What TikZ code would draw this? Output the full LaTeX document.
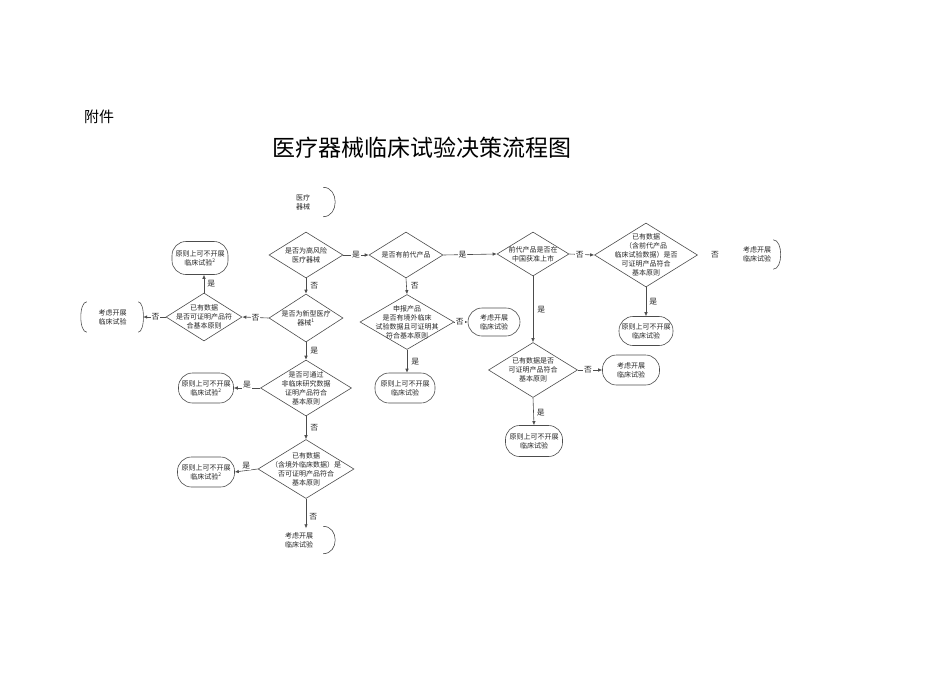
\documentclass[tikz,border=0pt]{standalone}
\usepackage{fontspec}
\setmainfont{Noto Sans CJK SC}
\usetikzlibrary{shapes.geometric,arrows.meta}
\newcommand\mydia[6]{\node[dia, minimum width=#4pt, minimum height=#5pt] (#1) at (#2,#3) {};\node[txt] at (#1) {#6};}
\begin{document}
\begin{tikzpicture}[x=1pt,y=-1pt,
  dia/.style={diamond, draw=black!70, line width=0.6pt, inner sep=0pt},
  term/.style={draw=black!70, line width=0.6pt, rounded corners=14pt, align=center, inner sep=0pt, text=black!85, font=\fontsize{7}{9}\selectfont},
  txt/.style={align=center, inner sep=0pt, text=black!85, font=\fontsize{7}{9}\selectfont},
  conn/.style={draw=black!70, line width=0.6pt, -{Latex[length=4pt,width=3.5pt]}},
  arcline/.style={draw=black!70, line width=0.6pt},
  lbl/.style={font=\fontsize{7.8}{8}\selectfont, text=black!85, fill=white, inner sep=1pt},
]
\useasboundingbox (0,0) rectangle (950,672);

% headings
\node[font=\fontsize{15}{16}\selectfont, inner sep=0pt] (att) at (99,117) {附件};
\node[font=\fontsize{23}{24}\selectfont, inner sep=0pt] (title) at (422,148) {医疗器械临床试验决策流程图};

% start
\node[txt, minimum width=40pt, minimum height=29pt] (T0) at (303,202) {医疗\\器械};
\draw[arcline] (T0.north east) .. controls +(16,0) and +(16,0) .. (T0.south east);

% diamonds
\mydia{D1}{306}{255}{74}{46}{是否为高风险\\医疗器械}
\mydia{D2}{406}{255}{74}{46}{是否有前代产品}
\mydia{D3}{533}{254}{72}{44}{前代产品是否在\\中国获准上市}
\mydia{D4}{646}{255}{103}{64}{已有数据\\（含前代产品\\临床试验数据）是否\\可证明产品符合\\基本原则}
\mydia{D5}{533}{370}{89}{55}{已有数据是否\\可证明产品符合\\基本原则}
\mydia{D6}{306}{318}{74}{48}{是否为新型医疗\\器械\textsuperscript{1}}
\mydia{D7}{204}{317}{76}{48}{已有数据\\是否可证明产品符\\合基本原则}
\mydia{D8}{306}{388}{91}{56}{是否可通过\\非临床研究数据\\证明产品符合\\基本原则}
\mydia{D9}{306}{469}{96}{59}{已有数据\\（含境外临床数据）是\\否可证明产品符合\\基本原则}
\mydia{D10}{407}{322}{94}{55}{申报产品\\是否有境外临床\\试验数据且可证明其\\符合基本原则}

% terminals
\node[term, minimum width=54pt, minimum height=29pt] (T4) at (646,331) {原则上可不开展\\临床试验};
\node[term, minimum width=57pt, minimum height=30pt] (T5) at (631,370) {考虑开展\\临床试验};
\node[term, minimum width=57pt, minimum height=31pt] (T6) at (534,441) {原则上可不开展\\临床试验};
\node[term, minimum width=56pt, minimum height=33pt] (T7) at (200,258) {原则上可不开展\\临床试验\textsuperscript{2}};
\node[term, minimum width=55pt, minimum height=30pt] (T9) at (206,388) {原则上可不开展\\临床试验\textsuperscript{2}};
\node[term, minimum width=57pt, minimum height=30pt] (T10) at (206,472) {原则上可不开展\\临床试验\textsuperscript{2}};
\node[term, minimum width=52pt, minimum height=28pt] (T12) at (494,322) {考虑开展\\临床试验};
\node[term, minimum width=60pt, minimum height=30pt] (T13) at (405,388) {原则上可不开展\\临床试验};

% partial terminals
\node[txt, minimum width=32pt, minimum height=29pt] (TR) at (757,254.5) {考虑开展\\临床试验};
\draw[arcline] (TR.north east) .. controls +(10,0) and +(10,0) .. (TR.south east);
\node[txt, minimum width=51pt, minimum height=30pt] (T8) at (112.5,317) {考虑开展\\临床试验};
\draw[arcline] (T8.north east) .. controls +(7,0) and +(7,0) .. (T8.south east);
\draw[arcline] (T8.north west) .. controls +(-8,0) and +(-8,0) .. (T8.south west);
\node[txt, minimum width=48pt, minimum height=27pt] (T11) at (299,540) {考虑开展\\临床试验};
\draw[arcline] (T11.north east) .. controls +(16,0) and +(16,0) .. (T11.south east);

% connectors
\draw[conn] (D1.east) -- node[lbl] {是} (D2.west);
\draw[conn] (D2.east) -- node[lbl, pos=0.36] {是} (D3.west);
\draw[conn] (D3.east) -- node[lbl, pos=0.42] {否} (D4.west);
\path (D4.east) -- node[lbl, pos=0.4] {否} (TR.west);
\draw[conn] (D4.south) -- node[lbl, right=2pt] {是} (T4.north);
\draw[conn] (D3.south) -- node[lbl, right=3pt] {是} (D5.north);
\draw[conn] (D5.east) -- node[lbl, pos=0.42] {否} (T5.west);
\draw[conn] (D5.south) -- node[lbl, right=2pt, pos=0.55] {是} (T6.north);
\draw[conn] (D1.south) -- node[lbl, right=3pt] {否} (D6.north);
\draw[conn] (D6.west) -- node[lbl] {否} (D7.east);
\draw[conn] (D7.north) -- node[lbl, right=2pt] {是} (D7.north |- T7.south);
\draw[conn] (D7.west) -- node[lbl, pos=0.45] {否} ([xshift=5pt]T8.east);
\draw[conn] (D6.south) -- node[lbl, right=3pt] {是} (D8.north);
\draw[conn] (D8.west) -- node[lbl, above=-1pt] {是} (T9.east);
\draw[conn] (D8.south) -- node[lbl, right=3pt] {否} (D9.north);
\draw[conn] (D9.west) -- node[lbl, above=0pt] {是} (T10.east);
\draw[conn] (D9.south) -- node[lbl, right=2pt, pos=0.6] {否} ([yshift=-2pt]T11.north -| D9.south);
\draw[conn] (D2.south) -- node[lbl, right=3pt] {否} (D10.north);
\draw[conn] (D10.east) -- node[lbl, pos=0.4] {否} (T12.west);
\draw[conn] (D10.south) -- node[lbl, right=3pt] {是} (D10.south |- T13.north);
\end{tikzpicture}
\end{document}
